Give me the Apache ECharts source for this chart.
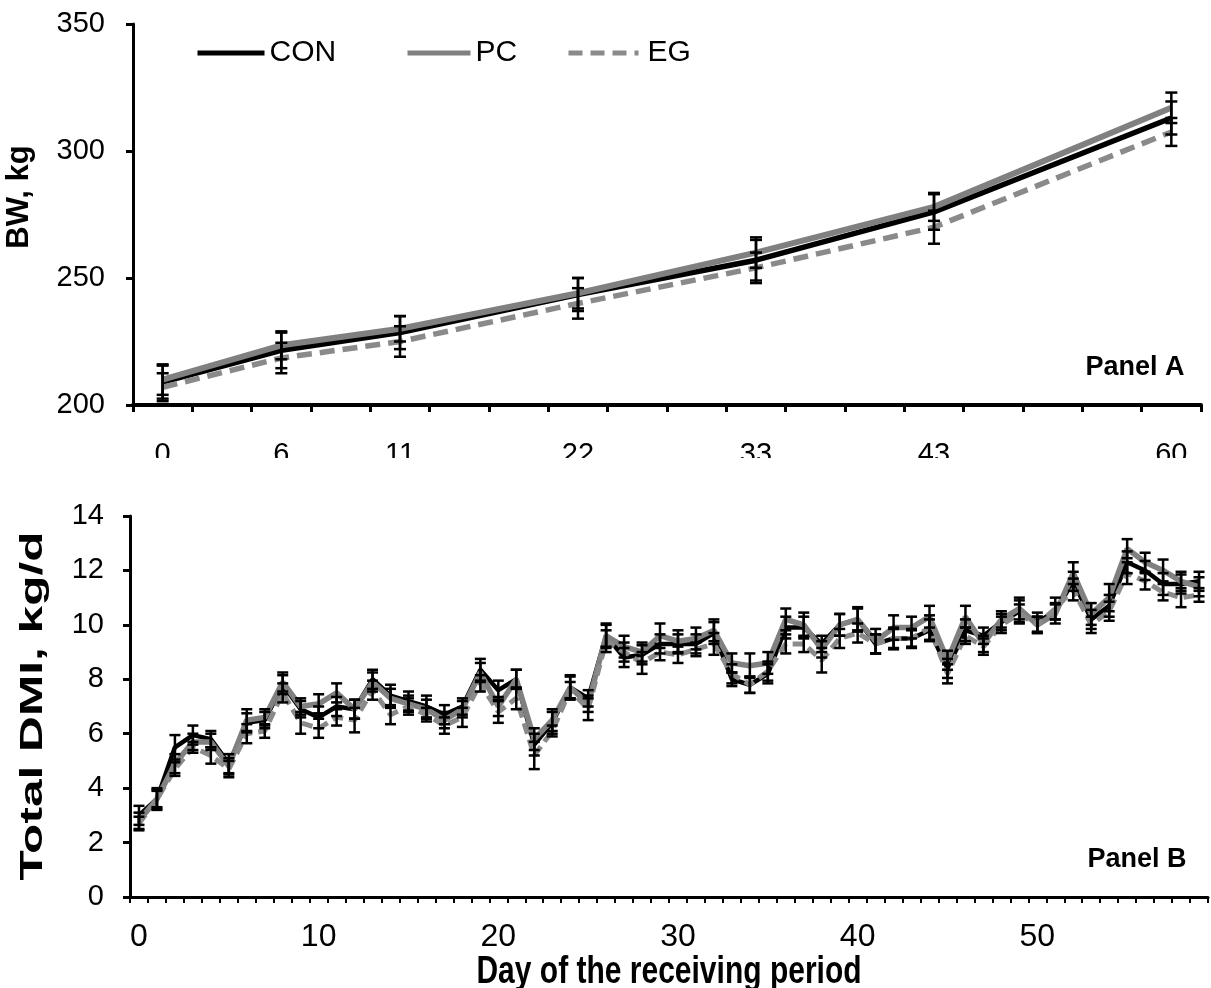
<!DOCTYPE html>
<html>
<head>
<meta charset="utf-8">
<script src="https://cdn.jsdelivr.net/npm/echarts@6/dist/echarts.min.js"></script>
<style>
  html, body { margin: 0; background: #fff; }
  #chart { width: 1211px; height: 988px; }
</style>
</head>
<body>
<div id="chart"></div>
<script>
// Panel A: body weight, days on an 18-slot category axis (blank slots between sample days)
const bwSlots = ['0', '', '6', '', '11', '', '', '22', '', '', '33', '', '', '43', '', '', '', '60'];
const bwDays = ['0', '6', '11', '22', '33', '43', '60'];
const bwCon = [209, 221.5, 228.5, 243.5, 257, 276, 313];
const bwPc = [210, 223.5, 230, 244, 260, 278, 317];
const bwEg = [207, 218.5, 225, 240, 254, 270, 307.5];
const bwConSE = [6.5, 7, 6.5, 6.5, 8, 7, 6.5];
const bwPcSE = [6, 5.5, 5, 6, 6, 5.5, 6];
const bwEgSE = [5.5, 6, 6, 6, 6, 6.5, 5.5];

// Panel B: total DMI, one category per day 0..59
const dmiDays = Array.from({ length: 60 }, (_, i) => String(i));
const dmiCon = [3.0, 3.6, 5.5, 5.95, 5.8, 4.9, 6.4, 6.5, 7.8, 6.9,
  6.6, 7.0, 6.9, 8.0, 7.4, 7.2, 7.0, 6.7, 7.0, 8.35,
  7.6, 8.0, 5.6, 6.4, 7.7, 7.3, 9.6, 8.8, 8.9, 9.3,
  9.3, 9.3, 9.7, 8.0, 7.8, 8.2, 9.9, 9.9, 9.3, 10.0,
  10.2, 9.3, 9.5, 9.5, 9.8, 8.4, 9.8, 9.6, 10.1, 10.5,
  10.1, 10.5, 11.6, 10.2, 10.7, 12.3, 12.0, 11.5, 11.5, 11.6];
const dmiPc = [2.8, 3.6, 4.9, 5.7, 5.7, 4.8, 6.5, 6.6, 7.9, 7.0,
  7.1, 7.5, 6.9, 7.9, 7.3, 7.1, 6.9, 6.5, 6.9, 8.25,
  7.0, 8.0, 5.8, 6.5, 7.7, 7.1, 9.6, 9.2, 9.0, 9.6,
  9.4, 9.5, 9.8, 8.6, 8.5, 8.6, 10.2, 10.0, 9.1, 10.0,
  10.2, 9.4, 9.9, 9.9, 10.3, 8.7, 10.3, 9.3, 10.2, 10.6,
  10.0, 10.4, 11.9, 10.4, 11.0, 12.8, 12.3, 12.0, 11.6, 11.4];
const dmiEg = [2.7, 3.6, 4.7, 5.5, 5.2, 4.7, 6.0, 6.1, 7.5, 6.4,
  6.2, 6.6, 6.5, 7.6, 6.7, 7.0, 6.7, 6.3, 6.6, 7.85,
  6.8, 7.3, 5.2, 6.1, 7.6, 6.9, 9.4, 9.0, 8.6, 9.0,
  8.9, 9.1, 9.3, 8.2, 7.8, 8.3, 9.3, 9.3, 8.7, 9.5,
  9.7, 9.3, 9.5, 9.5, 9.9, 8.2, 9.6, 9.2, 10.0, 10.4,
  10.0, 10.6, 11.3, 10.0, 10.5, 11.9, 11.6, 11.2, 11.0, 11.1];
const dmiConSE = [.35, .4, .45, .35, .3, .35, .35, .3, .35, .3,
  .4, .35, .35, .35, .4, .35, .4, .35, .3, .4,
  .35, .35, .4, .4, .4, .3, .4, .35, .35, .35,
  .35, .35, .4, .25, .3, .35, .4, .4, .3, .4,
  .45, .35, .35, .35, .4, .35, .4, .3, .3, .4,
  .35, .3, .35, .35, .4, .4, .35, .4, .35, .35];
const dmiPcSE = [.3, .35, .35, .3, .3, .3, .4, .3, .35, .3,
  .35, .35, .35, .35, .35, .3, .35, .3, .3, .35,
  .35, .35, .4, .4, .45, .3, .45, .4, .35, .45,
  .4, .4, .4, .35, .45, .4, .4, .45, .3, .4,
  .4, .45, .45, .4, .4, .35, .4, .3, .3, .4,
  .3, .35, .4, .4, .5, .35, .35, .4, .35, .35];
const dmiEgSE = [.25, .3, .25, .2, .3, .3, .35, .25, .35, .4,
  .35, .3, .45, .35, .35, .3, .25, .3, .35, .3,
  .4, .4, .5, .2, .3, .4, .4, .35, .4, .3,
  .3, .25, .4, .35, .3, .35, .35, .3, .45, .35,
  .35, .35, .4, .3, .45, .35, .3, .3, .3, .35,
  .3, .4, .4, .3, .35, .4, .3, .3, .35, .25];

const bwTicks = [200, 250, 300, 350];
const dmiTicks = [0, 2, 4, 6, 8, 10, 12, 14];

const FONT = "'Liberation Sans', Arial, sans-serif";
const NARROW = "'Liberation Sans Narrow', 'Arial Narrow', 'Liberation Sans', sans-serif";
const GREY = '#808080';
const GREY_DASH = '#8a8a8a';

const bwPairs = vals => bwDays.map((d, i) => [bwSlots.indexOf(d), vals[i]]);
const bwErr = (vals, se) => bwDays.map((d, i) => [bwSlots.indexOf(d), vals[i] - se[i], vals[i] + se[i]]);
const dmiErr = (vals, se) => vals.map((v, i) => [i, v - se[i], v + se[i]]);

function errorBars(name, data, axis, capWidth, lineWidth) {
  return {
    type: 'custom',
    name,
    xAxisIndex: axis,
    yAxisIndex: axis,
    z: 5,
    silent: true,
    data,
    encode: { x: 0, y: [1, 2] },
    renderItem(params, api) {
      const x = api.value(0);
      const lo = api.coord([x, api.value(1)]);
      const hi = api.coord([x, api.value(2)]);
      const h = capWidth / 2;
      const style = { stroke: '#000', lineWidth };
      return {
        type: 'group',
        children: [
          { type: 'line', shape: { x1: lo[0], y1: lo[1], x2: hi[0], y2: hi[1] }, style },
          { type: 'line', shape: { x1: lo[0] - h, y1: lo[1], x2: lo[0] + h, y2: lo[1] }, style },
          { type: 'line', shape: { x1: hi[0] - h, y1: hi[1], x2: hi[0] + h, y2: hi[1] }, style }
        ]
      };
    }
  };
}

function lineSeries(name, data, axis, color, width, dashed) {
  return {
    type: 'line',
    name,
    xAxisIndex: axis,
    yAxisIndex: axis,
    data,
    symbol: 'none',
    silent: true,
    lineStyle: { color, width, type: dashed ? dashed : 'solid' },
    itemStyle: { color }
  };
}

function legendItem(name, left, itemWidth, color, dash, textGap) {
  return {
    data: [name],
    left,
    top: 38,
    padding: 0,
    itemWidth,
    itemHeight: 14,
    selectedMode: false,
    itemStyle: { opacity: 0 },
    lineStyle: { color, width: 5, type: dash || 'solid' },
    textStyle: { fontFamily: FONT, fontSize: 30, color: '#000', padding: [0, 0, 0, textGap || 0] }
  };
}

const chart = echarts.init(document.getElementById('chart'));
chart.setOption({
  animation: false,
  backgroundColor: '#fff',
  grid: [
    { left: 133, right: 10, top: 24, height: 381, outerBoundsMode: 'none' },
    { left: 130, right: 3, top: 516, height: 381, outerBoundsMode: 'none' }
  ],
  legend: [
    legendItem('CON', 195, 67, '#000'),
    legendItem('PC', 405, 63, GREY),
    legendItem('EG', 566, 70, GREY_DASH, [14, 8], 4)
  ],
  xAxis: [
    {
      type: 'category', gridIndex: 0, data: bwSlots, boundaryGap: true,
      axisLine: { lineStyle: { color: '#000', width: 4 } },
      axisTick: { show: true, interval: 0, length: 7, lineStyle: { color: '#000', width: 3 } },
      axisLabel: { interval: 0, margin: 35, color: '#000', fontFamily: FONT, fontSize: 29 },
      splitLine: { show: false }
    },
    {
      type: 'category', gridIndex: 1, data: dmiDays, boundaryGap: true,
      axisLine: { lineStyle: { color: '#000', width: 3 } },
      axisTick: { show: true, interval: 0, length: 6, lineStyle: { color: '#000', width: 2 } },
      axisLabel: { interval: 9, margin: 24, color: '#000', fontFamily: NARROW, fontSize: 32 },
      splitLine: { show: false }
    }
  ],
  yAxis: [
    {
      type: 'value', gridIndex: 0, min: bwTicks[0], max: bwTicks[bwTicks.length - 1], interval: 50,
      axisLine: { show: true, lineStyle: { color: '#000', width: 3 } },
      axisTick: { show: true, length: 7, lineStyle: { color: '#000', width: 3 } },
      axisLabel: { margin: 28, color: '#000', fontFamily: FONT, fontSize: 29 },
      splitLine: { show: false }
    },
    {
      type: 'value', gridIndex: 1, min: dmiTicks[0], max: dmiTicks[dmiTicks.length - 1], interval: 2,
      axisLine: { show: true, lineStyle: { color: '#000', width: 3 } },
      axisTick: { show: true, length: 7, lineStyle: { color: '#000', width: 3 } },
      axisLabel: { margin: 26, color: '#000', fontFamily: FONT, fontSize: 29 },
      splitLine: { show: false }
    }
  ],
  series: [
    lineSeries('CON', bwPairs(bwCon), 0, '#000000', 5.5),
    lineSeries('PC', bwPairs(bwPc), 0, GREY, 6),
    lineSeries('EG', bwPairs(bwEg), 0, GREY_DASH, 5.5, [15, 8]),
    errorBars('CON SE', bwErr(bwCon, bwConSE), 0, 12, 2.5),
    errorBars('PC SE', bwErr(bwPc, bwPcSE), 0, 12, 2.5),
    errorBars('EG SE', bwErr(bwEg, bwEgSE), 0, 12, 2.5),
    lineSeries('CON', dmiCon, 1, '#000000', 4.5),
    lineSeries('PC', dmiPc, 1, GREY, 5.5),
    lineSeries('EG', dmiEg, 1, GREY_DASH, 5, [11, 6]),
    errorBars('CON SE', dmiErr(dmiCon, dmiConSE), 1, 11, 2.5),
    errorBars('PC SE', dmiErr(dmiPc, dmiPcSE), 1, 11, 2.5),
    errorBars('EG SE', dmiErr(dmiEg, dmiEgSE), 1, 11, 2.5)
  ],
  graphic: [
    // the lower panel's background cuts off the bottom of panel A's day labels, as in the original
    { type: 'rect', x: 0, y: 458, z: 100, shape: { width: 1211, height: 40 }, style: { fill: '#fff' } },
    { type: 'text', x: 19, y: 197, rotation: Math.PI / 2, z: 100,
      style: { text: 'BW, kg', font: `bold 31px ${FONT}`, fill: '#000', textAlign: 'center', textVerticalAlign: 'middle' } },
    { type: 'text', x: 33, y: 706, rotation: Math.PI / 2, scaleX: 1.6, z: 100,
      style: { text: 'Total DMI, kg/d', font: `bold 31px ${FONT}`, fill: '#000', textAlign: 'center', textVerticalAlign: 'middle' } },
    { type: 'text', x: 669, y: 973, scaleY: 1.27, z: 100,
      style: { text: 'Day of the receiving period', font: `bold 30px ${FONT}`, fill: '#000', textAlign: 'center', textVerticalAlign: 'middle' } },
    { type: 'text', x: 1135, y: 368, z: 100,
      style: { text: 'Panel A', font: `bold 27px ${FONT}`, fill: '#000', textAlign: 'center', textVerticalAlign: 'middle' } },
    { type: 'text', x: 1137, y: 860, z: 100,
      style: { text: 'Panel B', font: `bold 27px ${FONT}`, fill: '#000', textAlign: 'center', textVerticalAlign: 'middle' } }
  ]
});
</script>
</body>
</html>
